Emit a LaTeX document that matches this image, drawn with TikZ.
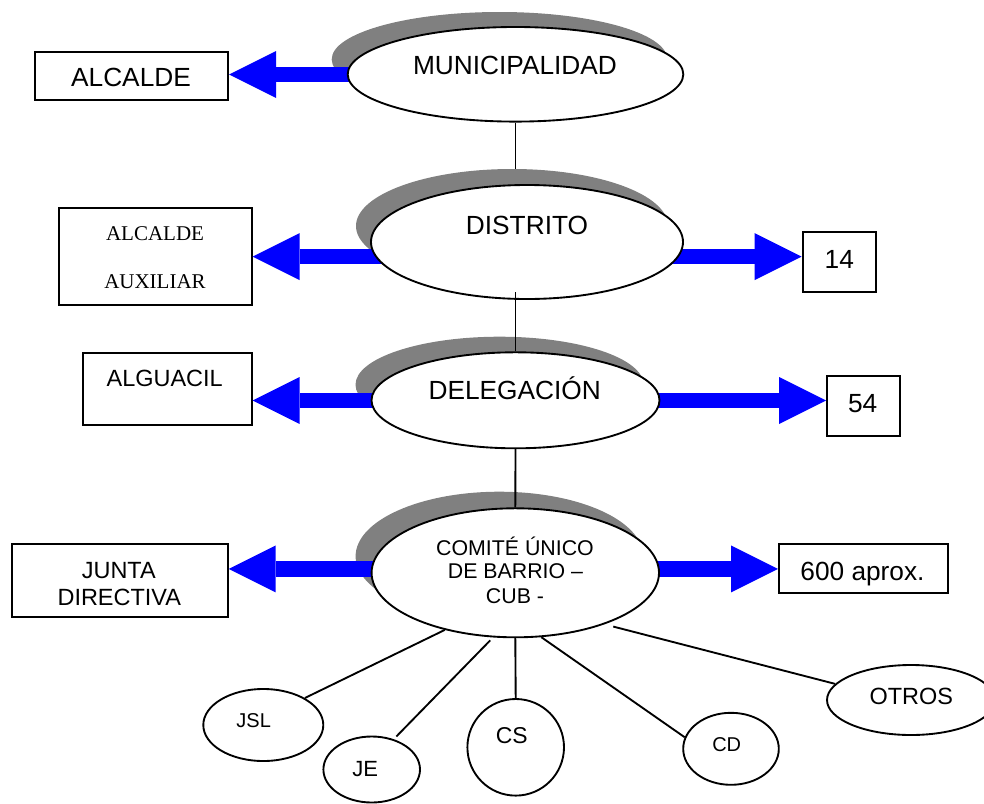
\documentclass[tikz,border=0pt]{standalone}
\usepackage{fontspec}
\setmainfont{Liberation Sans}
\newfontfamily\timesf{Liberation Serif}
\usetikzlibrary{shapes.geometric,arrows.meta}
\definecolor{shadowgray}{RGB}{128,128,128}
\definecolor{arrowblue}{RGB}{0,0,255}
\begin{document}
\begin{tikzpicture}[x=0.75pt,y=-0.75pt,
  bigell/.style={ellipse, draw, fill=white, line width=1.4pt, inner sep=0pt},
  shadowell/.style={ellipse, fill=shadowgray, inner sep=0pt},
  smallell/.style={ellipse, draw, fill=white, line width=1.4pt, inner sep=0pt},
  box/.style={rectangle, draw, fill=white, line width=1.5pt, inner sep=0pt},
  txt/.style={inner sep=0pt, anchor=base},
  fmain/.style={font=\fontsize{19.7pt}{23pt}\selectfont},
  fmid/.style={font=\fontsize{17.6pt}{21pt}\selectfont},
  fcub/.style={font=\fontsize{16pt}{19pt}\selectfont},
  ftimes/.style={font=\timesf\fontsize{15.75pt}{19pt}\selectfont},
  fsmall/.style={font=\fontsize{15pt}{18pt}\selectfont},
  conn/.style={line width=1.4pt},
  barrow/.style={draw=arrowblue, line width=11.7pt,
    -{Triangle[length=35.25pt,width=35.25pt,line width=0pt]}}]
\useasboundingbox (0,0) rectangle (984,803);

% boxes
\node[box, minimum width=144.75pt, minimum height=36pt] (alcalde) at (131.5,76) {};
\node[box, minimum width=144.3pt, minimum height=72.75pt] (aux) at (155.5,256.5) {};
\node[box, minimum width=55pt, minimum height=44.55pt] (b14) at (839.35,262) {};
\node[box, minimum width=126.75pt, minimum height=54.2pt] (alguacil) at (167.2,388.85) {};
\node[box, minimum width=54.5pt, minimum height=44.55pt] (b54) at (863.35,406) {};
\node[box, minimum width=162pt, minimum height=54.3pt] (junta) at (119.7,580.5) {};
\node[box, minimum width=126.5pt, minimum height=36.3pt] (b600) at (863.35,568.5) {};

% shadows
\node[shadowell, minimum width=251.7pt, minimum height=70.95pt] (munis) at (499.5,59.3) {};
\node[shadowell, minimum width=234pt, minimum height=85.5pt] (dists) at (512,226) {};
\node[shadowell, minimum width=216pt, minimum height=72pt] (delegs) at (499.5,384.7) {};
\node[shadowell, minimum width=215.55pt, minimum height=96.75pt] (comites) at (499.3,556.2) {};

% block arrows
\coordinate (s1) at (400,74.5);
\coordinate (s2) at (420,256.6);
\coordinate (s3) at (640,256.6);
\coordinate (s4) at (420,400.5);
\coordinate (s5) at (610,400.5);
\coordinate (s6) at (420,568.9);
\coordinate (s7) at (610,568.9);
\draw[barrow] (s1) -- (s1 -| alcalde.east);
\draw[barrow] (s2) -- (s2 -| aux.east);
\draw[barrow] (s3) -- (s3 -| b14.west);
\draw[barrow] (s4) -- (s4 -| alguacil.east);
\draw[barrow] (s5) -- (s5 -| b54.west);
\draw[barrow] (s6) -- (s6 -| junta.east);
\draw[barrow] (s7) -- (s7 -| b600.west);

% main ellipses
\node[bigell, minimum width=251.7pt, minimum height=70.95pt] (muni) at (515.5,74.3) {};
\node[bigell, minimum width=234pt, minimum height=85.5pt] (dist) at (527,242) {};
\node[bigell, minimum width=216pt, minimum height=72pt] (deleg) at (515.5,400.3) {};
\node[bigell, minimum width=215.55pt, minimum height=96.75pt] (comite) at (515.3,572.8) {};

% small ellipses
\node[smallell, minimum width=90pt, minimum height=54pt] (jsl) at (263.3,725) {};
\node[smallell, minimum width=72.45pt, minimum height=49.5pt] (je) at (371.7,769.5) {};
\node[smallell, minimum width=72.45pt, minimum height=72.45pt] (cs) at (515.7,747.3) {};
\node[smallell, minimum width=71.7pt, minimum height=54pt] (cd) at (731,748.8) {};
\node[smallell, minimum width=126pt, minimum height=52.5pt] (otros) at (911,700) {};

% connectors
\draw[conn] (muni.south) -- (muni.south |- dists.north);
\draw[conn, shorten >=-6.2pt] (deleg.north) -- (deleg.north |- dist.south);
\draw[conn] (deleg.south) -- (comite.north);
\draw[conn] (comite.-141.9) -- (jsl.33);
\draw[conn, shorten <=3pt, shorten >=2.8pt] (comite.-109.2) -- (je.54.6);
\draw[conn] (comite.south) -- (cs.north);
\draw[conn] (comite.-68.4) -- (cd.166.3);
\draw[conn, shorten <=6.8pt] (comite.-30.4) -- (otros.168.3);

% texts
\node[txt, fmain] (tmuni) at (515,74) {MUNICIPALIDAD};
\node[txt, fmain] (talc) at (131,86.7) {ALCALDE};
\node[txt, fmain] (tdist) at (527,234) {DISTRITO};
\node[txt, ftimes] (taux1) at (155,240) {ALCALDE};
\node[txt, ftimes] (taux2) at (155,288.3) {AUXILIAR};
\node[txt, fmain] (t14) at (839.3,268.3) {14};
\node[txt, fmid] (talg) at (164.7,386.7) {ALGUACIL};
\node[txt, fmain] (tdeleg) at (514.7,399.3) {DELEGACIÓN};
\node[txt, fmain] (t54) at (862.7,412.3) {54};
\node[txt, fcub] (tc1) at (515,555) {COMITÉ ÚNICO};
\node[txt, fcub] (tc2) at (515.5,578.3) {DE BARRIO –};
\node[txt, fcub] (tc3) at (515,603.3) {CUB -};
\node[txt, fmid] (tj1) at (118.8,578.3) {JUNTA};
\node[txt, fmid] (tj2) at (119.3,605) {DIRECTIVA};
\node[txt, fmain] (t600) at (862.5,580) {600 aprox.};
\node[txt, fsmall] (tjsl) at (253.7,727.3) {JSL};
\node[txt, font=\fontsize{16.5pt}{19pt}\selectfont] (tje) at (365.3,776.7) {JE};
\node[txt, font=\fontsize{17.2pt}{20pt}\selectfont] (tcs) at (511.8,743.3) {CS};
\node[txt, fsmall] (tcd) at (726.7,751) {CD};
\node[txt, fmid] (totros) at (911.3,704.3) {OTROS};
\end{tikzpicture}
\end{document}
